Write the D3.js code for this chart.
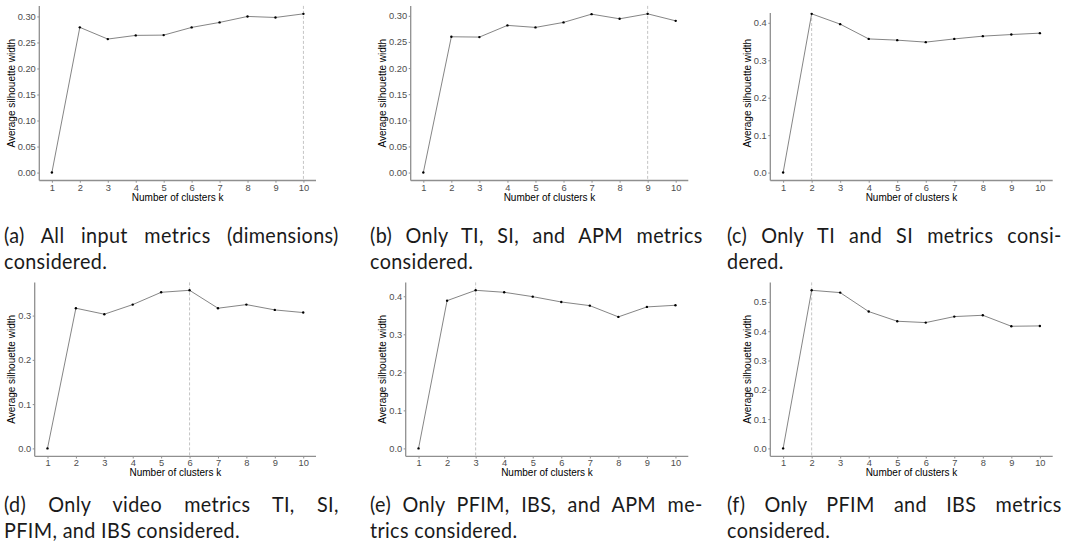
<!DOCTYPE html>
<html>
<head>
<meta charset="utf-8">
<script src="https://cdn.jsdelivr.net/npm/d3@7"></script>
<style>
  body { margin: 0; background: #fff; }
  svg { display: block; }
</style>
</head>
<body>
<div id="figure"></div>
<script>
// number of clusters on the x axis
const clusterK = [1, 2, 3, 4, 5, 6, 7, 8, 9, 10];

// average silhouette width, one array per sub-figure
const silAll = [0, 0.279, 0.2565, 0.2636, 0.2641, 0.2789, 0.2885, 0.300, 0.298, 0.305];
const silTiSiApm = [0, 0.2599, 0.2593, 0.2817, 0.2778, 0.2874, 0.3032, 0.2943, 0.3038, 0.2904];
const silTiSi = [0, 0.424, 0.3965, 0.357, 0.3537, 0.3484, 0.357, 0.3644, 0.3687, 0.3724];
const silVideo = [0, 0.3166, 0.3031, 0.3248, 0.3526, 0.3571, 0.3166, 0.3248, 0.3128, 0.3068];
const silPfimIbsApm = [0, 0.3885, 0.4157, 0.4105, 0.399, 0.385, 0.3754, 0.3458, 0.372, 0.3764];
const silPfimIbs = [0, 0.5396, 0.5317, 0.467, 0.434, 0.4294, 0.4499, 0.4544, 0.4169, 0.418];

// optimal k (dashed line) per sub-figure
const bestK = [10, 9, 2, 6, 3, 2];

// y tick labels per sub-figure
const ticksTwoDec = ["0.00", "0.05", "0.10", "0.15", "0.20", "0.25", "0.30"];
const ticksC = ["0.0", "0.1", "0.2", "0.3", "0.4"];
const ticksD = ["0.0", "0.1", "0.2", "0.3"];
const ticksE = ["0.0", "0.1", "0.2", "0.3", "0.4"];
const ticksF = ["0.0", "0.1", "0.2", "0.3", "0.4", "0.5"];

// sub-figure captions (first line justified, second line ragged)
const captionsLine1 = [
  "(a) All input metrics (dimensions)",
  "(b) Only TI, SI, and APM metrics",
  "(c) Only TI and SI metrics consi-",
  "(d) Only video metrics TI, SI,",
  "(e) Only PFIM, IBS, and APM me-",
  "(f) Only PFIM and IBS metrics"
];
const captionsLine2 = [
  "considered.",
  "considered.",
  "dered.",
  "PFIM, and IBS considered.",
  "trics considered.",
  "considered."
];

const xTitle = "Number of clusters k";
const yTitle = "Average silhouette width";

// panel frames in pixels
const panels = [
  {values: silAll,        ticks: ticksTwoDec, x0: 39.3,  x1: 316,    top: 5.9,   clip: 5.9,  bottom: 180.5, capX: 4,   capW: 335},
  {values: silTiSiApm,    ticks: ticksTwoDec, x0: 410.7, x1: 688.3,  top: 5.9,   clip: 5.9,  bottom: 180.5, capX: 370, capW: 333},
  {values: silTiSi,       ticks: ticksC,      x0: 770.3, x1: 1052.7, top: 5.9,   clip: 13,   bottom: 180.5, capX: 727, capW: 335},
  {values: silVideo,      ticks: ticksD,      x0: 34.7,  x1: 316,    top: 282.4, clip: 282.4, bottom: 456.3, capX: 4,   capW: 335},
  {values: silPfimIbsApm, ticks: ticksE,      x0: 405.7, x1: 688.3,  top: 282.4, clip: 282.4, bottom: 456.3, capX: 370, capW: 333},
  {values: silPfimIbs,    ticks: ticksF,      x0: 770.3, x1: 1052.7, top: 282.4, clip: 282.4, bottom: 456.3, capX: 727, capW: 335}
];
const captionBase = [243, 512];
const capFont = "22px";
const capScale = 0.9;      // caption face is narrower than Lato
const capTracking = 0.4;   // letter spacing before the squeeze

const W = 1071, H = 553;
const svg = d3.select("#figure").append("svg")
  .attr("width", W).attr("height", H);

const axisGrey = "#8f8f8f";
const plotFont = "'Liberation Sans', Arial, sans-serif";

panels.forEach(function(p, i) {
  const g = svg.append("g");

  // ggplot style expansion (5%) on both axes
  const yMax = d3.max(p.values), yMin = d3.min(p.values);
  const ySpan = yMax - yMin;
  const y = d3.scaleLinear()
    .domain([yMin - 0.05 * ySpan, yMax + 0.05 * ySpan])
    .range([p.bottom, p.top]);
  const x = d3.scaleLinear()
    .domain([0.55, 10.45])
    .range([p.x0, p.x1]);

  // y axis
  const yAxis = g.append("g")
    .attr("transform", `translate(${p.x0},0)`)
    .call(d3.axisLeft(y)
      .tickValues(p.ticks.map(Number))
      .tickFormat((d, j) => p.ticks[j])
      .tickSize(2).tickPadding(1.5));
  yAxis.select(".domain").remove();
  yAxis.selectAll("line").attr("stroke", axisGrey).attr("stroke-width", 1);
  yAxis.selectAll("text")
    .attr("fill", "#4d4d4d")
    .style("font-family", plotFont)
    .style("font-size", "9.3px");

  // x axis
  const xAxis = g.append("g")
    .attr("transform", `translate(0,${p.bottom})`)
    .call(d3.axisBottom(x).tickValues(clusterK).tickSize(2.2).tickPadding(1.2));
  xAxis.select(".domain").remove();
  xAxis.selectAll("line").attr("stroke", axisGrey).attr("stroke-width", 1);
  xAxis.selectAll("text")
    .attr("fill", "#4d4d4d")
    .style("font-family", plotFont)
    .style("font-size", "9.3px");

  // axis lines (theme_classic)
  g.append("line")
    .attr("x1", p.x0).attr("x2", p.x0)
    .attr("y1", p.clip).attr("y2", p.bottom)
    .attr("stroke", axisGrey).attr("stroke-width", 1.3);
  g.append("line")
    .attr("x1", p.x0).attr("x2", p.x1)
    .attr("y1", p.bottom).attr("y2", p.bottom)
    .attr("stroke", axisGrey).attr("stroke-width", 1.3);

  // dashed optimum line
  g.append("line")
    .attr("x1", x(bestK[i])).attr("x2", x(bestK[i]))
    .attr("y1", p.clip).attr("y2", p.bottom - 0.7)
    .attr("stroke", "#b5b5b5").attr("stroke-width", 0.8)
    .attr("stroke-dasharray", "3,2");

  // line + points
  const pts = clusterK.map((k, j) => ({k: k, v: p.values[j]}));
  g.append("path")
    .datum(pts)
    .attr("fill", "none")
    .attr("stroke", "#777")
    .attr("stroke-width", 0.9)
    .attr("d", d3.line().x(d => x(d.k)).y(d => y(d.v)));
  g.selectAll("circle.pt")
    .data(pts)
    .join("circle")
    .attr("class", "pt")
    .attr("cx", d => x(d.k))
    .attr("cy", d => y(d.v))
    .attr("r", 1.2)
    .attr("fill", "#000");

  // axis titles
  const labW = yAxis.node().getBBox().width;
  g.append("text")
    .attr("transform", `translate(${p.x0 - labW - 3},${(p.top + p.bottom) / 2}) rotate(-90)`)
    .attr("text-anchor", "middle")
    .style("font-family", plotFont)
    .style("font-size", "10px")
    .attr("fill", "#000")
    .text(yTitle);
  g.append("text")
    .attr("x", (p.x0 + p.x1) / 2)
    .attr("y", p.bottom + 20)
    .attr("text-anchor", "middle")
    .style("font-family", plotFont)
    .style("font-size", "10px")
    .attr("fill", "#000")
    .text(xTitle);
});

// captions: squeezed Lato, first line justified with word spacing
const cap1 = svg.selectAll("text.cap1")
  .data(captionsLine1)
  .join("text")
  .attr("class", "cap1")
  .style("font-family", "Lato, sans-serif")
  .style("font-size", capFont)
  .style("letter-spacing", capTracking + "px")
  .attr("fill", "#1a1a1a")
  .text(d => d);

cap1.each(function(d, i) {
  const p = panels[i];
  const row = i < 3 ? 0 : 1;
  const natural = this.getComputedTextLength();
  const nSpaces = d.split(" ").length - 1;
  const extra = (p.capW / capScale - natural) / nSpaces;
  d3.select(this)
    .attr("transform", `translate(${p.capX},${captionBase[row]}) scale(${capScale},1)`)
    .style("word-spacing", extra + "px");
});

svg.selectAll("text.cap2")
  .data(captionsLine2)
  .join("text")
  .attr("class", "cap2")
  .attr("transform", (d, i) => `translate(${panels[i].capX},${captionBase[i < 3 ? 0 : 1] + 26}) scale(${capScale},1)`)
  .style("font-family", "Lato, sans-serif")
  .style("font-size", capFont)
  .style("letter-spacing", capTracking + "px")
  .attr("fill", "#1a1a1a")
  .text(d => d);
</script>
</body>
</html>
